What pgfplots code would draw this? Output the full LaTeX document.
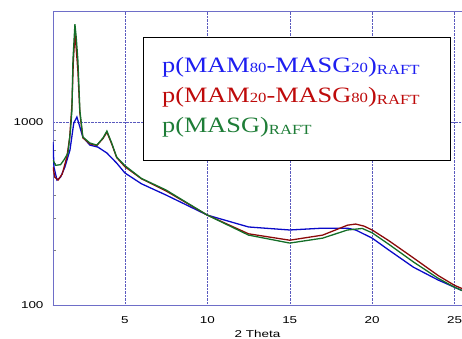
\documentclass[border=0pt]{standalone}
\usepackage{pgfplots}
\pgfplotsset{compat=1.18}
\usepackage{fontspec}
\newfontfamily\tickfont{Liberation Sans}[FakeStretch=1.35]
\newfontfamily\legfont{Liberation Serif}[FakeStretch=1.2]
\definecolor{cblue}{RGB}{10,10,200}
\definecolor{cred}{RGB}{140,10,10}
\definecolor{cgreen}{RGB}{20,110,40}
\definecolor{tblue}{RGB}{30,30,240}
\definecolor{tred}{RGB}{190,10,10}
\definecolor{tgreen}{RGB}{30,125,55}
\definecolor{axc}{RGB}{110,110,200}
\definecolor{gridc}{RGB}{90,90,190}
\begin{document}
\begin{tikzpicture}
\begin{axis}[
  scale only axis, width=409bp, height=294bp,
  xmin=0.64, xmax=25.45, ymin=100, ymax=4045,
  ymode=log,
  axis x line=box, axis y line*=left,
  axis line style={axc, line width=0.8pt},
  xtick={5,10,15,20,25}, ytick={100,1000},
  yticklabels={100,1000},
  log ticks with fixed point,
  major tick length=0pt, minor tick num=0,
  ymajorgrids, xmajorgrids,
  grid style={gridc, densely dotted, line width=0.45pt},
  tick label style={font=\tickfont\fontsize{10}{12}\selectfont, black},
  /pgf/number format/assume math mode=true,
  xticklabel style={yshift=-8bp},
  yticklabel style={xshift=-6bp},
  xlabel={2 Theta},
  xlabel style={font=\tickfont\fontsize{10}{12}\selectfont, yshift=0bp},
  clip=true,
]
\coordinate (sw) at (rel axis cs:0,0);
\addplot[cblue, line width=1.3pt] coordinates {
(0.64,777) (0.70,567) (0.88,482) (1.1,500) (1.36,567) (1.67,703) (1.9,987) (2.09,1065) (2.27,939) (2.45,828) (2.88,748) (3.36,730) (3.91,677) (4.5,597) (5,527) (6,460) (7.5,399) (10,310) (12.5,267) (15,257) (17,263) (18.5,263) (19,257) (20,232) (21,200) (22.5,161) (24,137) (25,125) (25.45,120)
};
\addplot[cred, line width=1.3pt] coordinates {
(0.64,567) (0.75,500) (0.95,482) (1.2,520) (1.48,644) (1.65,820) (1.79,1250) (1.87,2100) (1.97,3050) (2.05,2500) (2.15,1900) (2.27,1120) (2.45,820) (2.88,760) (3.3,745) (3.67,812) (3.91,880) (4.2,760) (4.5,640) (5,570) (6,490) (7.5,420) (10,310) (12.5,245) (15,226) (17,241) (18.5,273) (19,277) (19.5,270) (20,257) (21,225) (22.5,181) (24,145) (25,128) (25.45,123)
};
\addplot[cgreen, line width=1.3pt] coordinates {
(0.64,620) (0.8,580) (1.1,585) (1.3,620) (1.55,677) (1.7,900) (1.79,1163) (1.85,2180) (1.97,3430) (2.05,2900) (2.15,2180) (2.27,1160) (2.45,828) (2.88,768) (3.3,748) (3.67,818) (3.91,893) (4.2,768) (4.5,644) (5,578) (6,492) (7.5,425) (10,310) (12.5,241) (15,218) (17,232) (18.5,257) (19.4,262) (20,248) (21,215) (22.5,172) (24,140) (25,125) (25.45,120)
};
\node[draw=black, line width=1.3pt, fill=white, anchor=north west, inner sep=0pt,
  minimum width=307bp, minimum height=123bp] at (rel axis cs:0.22,0.912) {};
\node[anchor=north west, align=left, inner sep=0pt, font=\legfont\fontsize{22}{30}\selectfont]
  at (rel axis cs:0.2665,0.843) {%
  \textcolor{tblue}{p(MAM{\fontsize{14}{14}\selectfont 80}-MASG{\fontsize{14}{14}\selectfont 20}){\raisebox{-2bp}{\fontsize{14}{14}\selectfont RAFT}}}\\
  \textcolor{tred}{p(MAM{\fontsize{14}{14}\selectfont 20}-MASG{\fontsize{14}{14}\selectfont 80}){\raisebox{-2bp}{\fontsize{14}{14}\selectfont RAFT}}}\\
  \textcolor{tgreen}{p(MASG){\raisebox{-2bp}{\fontsize{14}{14}\selectfont RAFT}}}};
\end{axis}
\pgfresetboundingbox
\path[use as bounding box] (sw) ++(-53bp,-34bp) rectangle ++(462bp,339bp);
\end{tikzpicture}
\end{document}
